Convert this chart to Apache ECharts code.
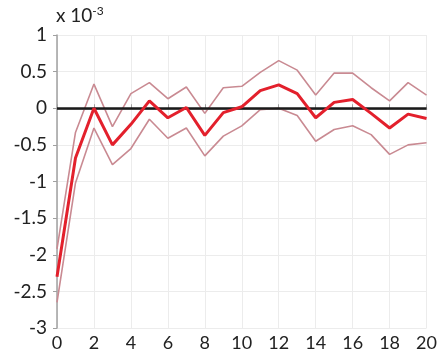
<!DOCTYPE html>
<html><head><meta charset="utf-8">
<script src="https://cdn.jsdelivr.net/npm/echarts@6/dist/echarts.min.js"></script>
<style>html,body{margin:0;padding:0;background:#fff}#c{width:440px;height:358px}</style>
</head><body><div id="c"></div>
<script>
const horizons = [0,1,2,3,4,5,6,7,8,9,10,11,12,13,14,15,16,17,18,19,20];
const response = [-2.30,-0.68,0.00,-0.50,-0.22,0.10,-0.13,0.01,-0.37,-0.06,0.02,0.24,0.32,0.20,-0.13,0.08,0.12,-0.07,-0.27,-0.08,-0.14];
const upperBand = [-1.92,-0.33,0.33,-0.25,0.20,0.35,0.13,0.29,-0.07,0.28,0.30,0.49,0.65,0.52,0.18,0.48,0.48,0.28,0.10,0.35,0.18];
const lowerBand = [-2.65,-1.02,-0.27,-0.77,-0.55,-0.15,-0.41,-0.27,-0.65,-0.38,-0.24,-0.02,0.00,-0.10,-0.45,-0.29,-0.24,-0.36,-0.63,-0.50,-0.47];
const yTicks = [-3,-2.5,-2,-1.5,-1,-0.5,0,0.5,1];

const pairs = arr => horizons.map((h,i)=>[h,arr[i]]);
const chart = echarts.init(document.getElementById('c'));
const band = '#c98a92';
const ff = 'Lato, Open Sans, sans-serif';
chart.setOption({
  animation:false,
  backgroundColor:'#fff',
  grid:{left:57,right:10,top:35,bottom:30},
  xAxis:{type:'value',min:0,max:20,interval:2,
    axisLine:{lineStyle:{color:'#a0a0a0',width:1.5}},
    axisTick:{inside:true,length:4,lineStyle:{color:'#a0a0a0'}},
    splitLine:{lineStyle:{color:'#ececec'}},
    axisLabel:{color:'#222',fontSize:18,fontFamily:ff,margin:6}},
  yAxis:{type:'value',min:-3,max:1,interval:0.5,
    axisLine:{show:true,lineStyle:{color:'#a0a0a0',width:1.5}},
    axisTick:{show:true,length:4,lineStyle:{color:'#a0a0a0'}},
    splitLine:{lineStyle:{color:'#ececec'}},
    axisLabel:{color:'#222',fontSize:19,fontFamily:ff,margin:10,
      formatter:v=>String(v)}},
  graphic:[{type:'text',left:56,top:5,style:{
    rich:{a:{fontSize:19,fill:'#222',fontFamily:ff},
          b:{fontSize:12,fill:'#222',fontFamily:ff,verticalAlign:'top',padding:[0,0,10,0]}},
    text:'{a|x 10}{b|-3}'}}],
  series:[
    {type:'line',data:pairs(upperBand),symbol:'none',lineStyle:{color:band,width:1.6},z:2},
    {type:'line',data:pairs(lowerBand),symbol:'none',lineStyle:{color:band,width:1.6},z:2},
    {type:'line',data:pairs(response),symbol:'none',lineStyle:{color:'#e3202c',width:3},z:4,
      markLine:{silent:true,symbol:'none',label:{show:false},lineStyle:{color:'#1a1a1a',width:2.5,type:'solid'},data:[{yAxis:0}],z:3}}
  ]
});
</script></body></html>
